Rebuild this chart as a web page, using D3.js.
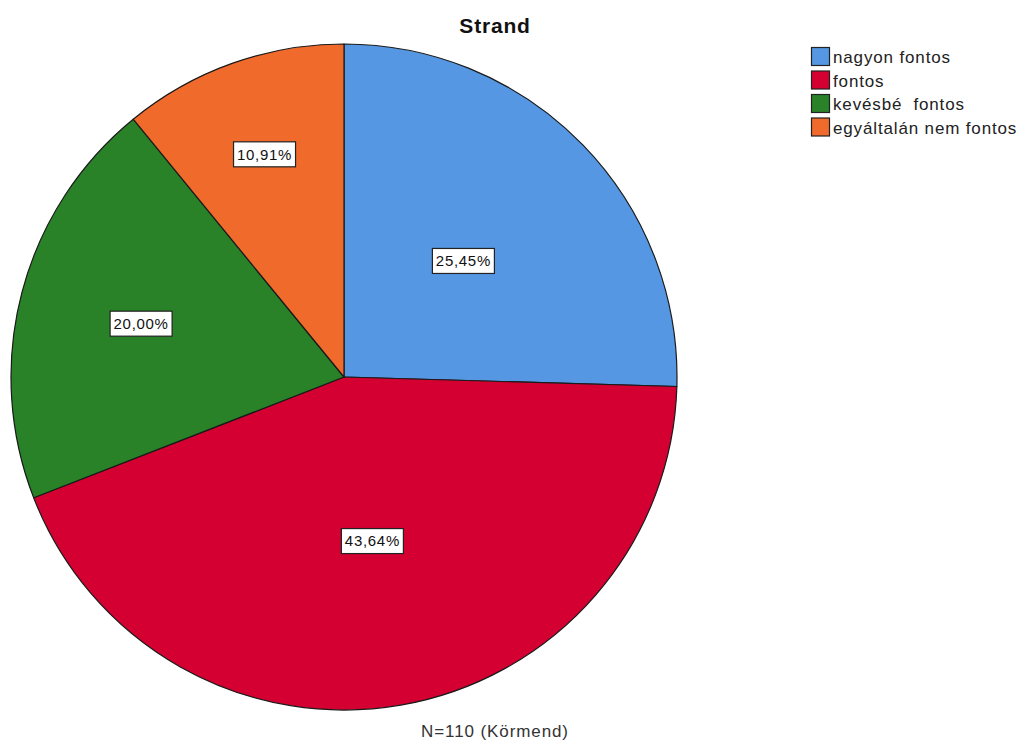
<!DOCTYPE html>
<html>
<head>
<meta charset="utf-8">
<script src="https://cdn.jsdelivr.net/npm/d3@7"></script>
<style>
  body { margin: 0; background: #fff; }
  text { font-family: "Liberation Sans", Arial, sans-serif; white-space: pre; }
</style>
</head>
<body>
<div id="chart"></div>
<script>
// Chart data
var categories = ["nagyon fontos", "fontos", "kevésbé  fontos", "egyáltalán nem fontos"];
var counts = [28, 48, 22, 12];
var colors = ["#5597e3", "#d40031", "#2a8228", "#f06a2c"];
var chartTitle = "Strand";
var footnote = "N=110 (Körmend)";

var width = 1024, height = 740;
var cx = 344, cy = 377, radius = 333;

var svg = d3.select("#chart").append("svg")
    .attr("width", width)
    .attr("height", height);

var total = d3.sum(counts);
var pie = d3.pie().sort(null).value(function(d) { return d; });
var arcs = pie(counts);
var arc = d3.arc().innerRadius(0).outerRadius(radius);

var g = svg.append("g").attr("transform", "translate(" + cx + "," + cy + ")");

g.selectAll("path.slice")
    .data(arcs)
  .enter().append("path")
    .attr("class", "slice")
    .attr("d", arc)
    .attr("fill", function(d, i) { return colors[i]; })
    .attr("stroke", "#1a1a1a")
    .attr("stroke-width", 1.2)
    .attr("stroke-linejoin", "round");

function fmt(v) {
  return (v / total * 100).toFixed(2).replace(".", ",") + "%";
}

// label distance depends on slice size
function labelFrac(d) {
  var share = d.value / total;
  if (share >= 0.25) return 0.5;
  if (share >= 0.15) return 0.63;
  return 0.71;
}

var labels = g.selectAll("g.lbl")
    .data(arcs)
  .enter().append("g")
    .attr("class", "lbl")
    .attr("transform", function(d) {
      var r = radius * labelFrac(d);
      var la = d3.arc().innerRadius(r).outerRadius(r);
      var c = la.centroid(d);
      return "translate(" + c[0] + "," + c[1] + ")";
    });

labels.append("rect")
    .attr("x", -31)
    .attr("y", -12.5)
    .attr("width", 62)
    .attr("height", 25)
    .attr("fill", "#fff")
    .attr("stroke", "#222")
    .attr("stroke-width", 1.2);

labels.append("text")
    .attr("text-anchor", "middle")
    .attr("dy", "0.36em")
    .attr("font-size", 15)
    .attr("letter-spacing", 0.7)
    .attr("fill", "#111")
    .text(function(d) { return fmt(d.value); });

// Title
svg.append("text")
    .attr("x", 495)
    .attr("y", 33)
    .attr("text-anchor", "middle")
    .attr("font-size", 21)
    .attr("letter-spacing", 0.8)
    .attr("font-weight", "bold")
    .attr("fill", "#111")
    .text(chartTitle);

// Footnote
svg.append("text")
    .attr("x", 495)
    .attr("y", 737)
    .attr("text-anchor", "middle")
    .attr("font-size", 17)
    .attr("letter-spacing", 0.9)
    .attr("fill", "#333")
    .text(footnote);

// Legend
var legend = svg.append("g").attr("transform", "translate(811,47)");
var item = legend.selectAll("g.item")
    .data(categories)
  .enter().append("g")
    .attr("class", "item")
    .attr("transform", function(d, i) { return "translate(0," + (i * 23.5) + ")"; });

item.append("rect")
    .attr("x", 0.5)
    .attr("y", 0.5)
    .attr("width", 18)
    .attr("height", 18)
    .attr("fill", function(d, i) { return colors[i]; })
    .attr("stroke", "#222")
    .attr("stroke-width", 1.2);

item.append("text")
    .attr("x", 22)
    .attr("y", 16)
    .attr("font-size", 17)
    .attr("letter-spacing", 0.85)
    .attr("fill", "#222")
    .text(function(d) { return d; });
</script>
</body>
</html>
